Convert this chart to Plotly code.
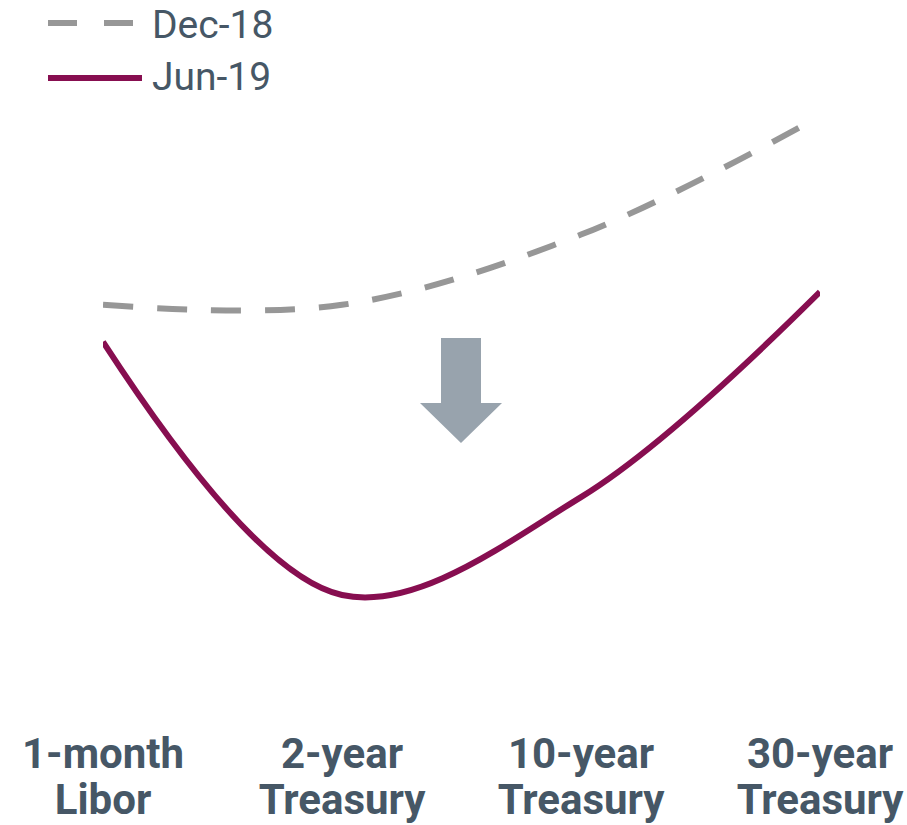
import plotly.graph_objects as go

categories = ["1-month<br>Libor", "2-year<br>Treasury", "10-year<br>Treasury", "30-year<br>Treasury"]
dec18 = [2.50, 2.50, 2.69, 3.01]
jun19 = [2.40, 1.715, 1.98, 2.535]

W, H = 907, 825
L, R, T, B = 103, 87, 83, 95
pw, ph = W - L - R, H - T - B

def px(x):
    return (x - L) / pw

def py(y):
    return (H - B - y) / ph

TEXT = "#465766"
GRAY = "#979797"
MAROON = "#870E50"
ARROW = "#98A3AD"

fig = go.Figure()
fig.add_trace(go.Scatter(x=list(range(len(categories))), y=dec18, mode="lines", name="Dec-18",
                         line=dict(color=GRAY, width=6, dash="30px,24px", shape="spline", smoothing=1),
                         showlegend=False))
fig.add_trace(go.Scatter(x=list(range(len(categories))), y=jun19, mode="lines", name="Jun-19",
                         line=dict(color=MAROON, width=6, shape="spline", smoothing=1),
                         showlegend=False))

shapes = []
# legend samples
shapes.append(dict(type="line", xref="paper", yref="paper", x0=px(48), x1=px(77), y0=py(23), y1=py(23),
                   line=dict(color=GRAY, width=6)))
shapes.append(dict(type="line", xref="paper", yref="paper", x0=px(104), x1=px(133), y0=py(23), y1=py(23),
                   line=dict(color=GRAY, width=6)))
shapes.append(dict(type="line", xref="paper", yref="paper", x0=px(48), x1=px(142), y0=py(78), y1=py(78),
                   line=dict(color=MAROON, width=6)))
# down arrow
pts = [(441, 338), (481, 338), (481, 403), (502, 403), (461, 443), (420, 403), (441, 403)]
path = "M " + " L ".join(f"{px(a):.5f},{py(b):.5f}" for a, b in pts) + " Z"
shapes.append(dict(type="path", xref="paper", yref="paper", path=path, fillcolor=ARROW,
                   line=dict(width=0)))

annotations = [
    dict(text="Dec-18", xref="paper", yref="paper", x=px(150), y=py(25), xanchor="left", yanchor="middle",
         showarrow=False, font=dict(family="Roboto, Arial, sans-serif", size=39, color=TEXT)),
    dict(text="Jun-19", xref="paper", yref="paper", x=px(150), y=py(77), xanchor="left", yanchor="middle",
         showarrow=False, font=dict(family="Roboto, Arial, sans-serif", size=39, color=TEXT)),
]

ticktext = ["<br>".join(f'<span style="font-size:42px">{part}</span>' for part in c.split("<br>"))
            for c in categories]

fig.update_layout(
    width=W, height=H,
    margin=dict(l=L, r=R, t=T, b=B),
    plot_bgcolor="white", paper_bgcolor="white",
    shapes=shapes, annotations=annotations,
    xaxis=dict(tickmode="array", tickvals=list(range(len(categories))), ticktext=ticktext,
               range=[0, 3], showgrid=False, zeroline=False, showline=False, ticks="",
               automargin=False,
               tickfont=dict(family="Roboto, Arial, sans-serif", size=35, color=TEXT, weight="bold"),
               ticklabelstandoff=2),
    yaxis=dict(range=[1.35, 3.1], visible=False, showgrid=False, zeroline=False, automargin=False),
)

fig.write_html("out.html")
